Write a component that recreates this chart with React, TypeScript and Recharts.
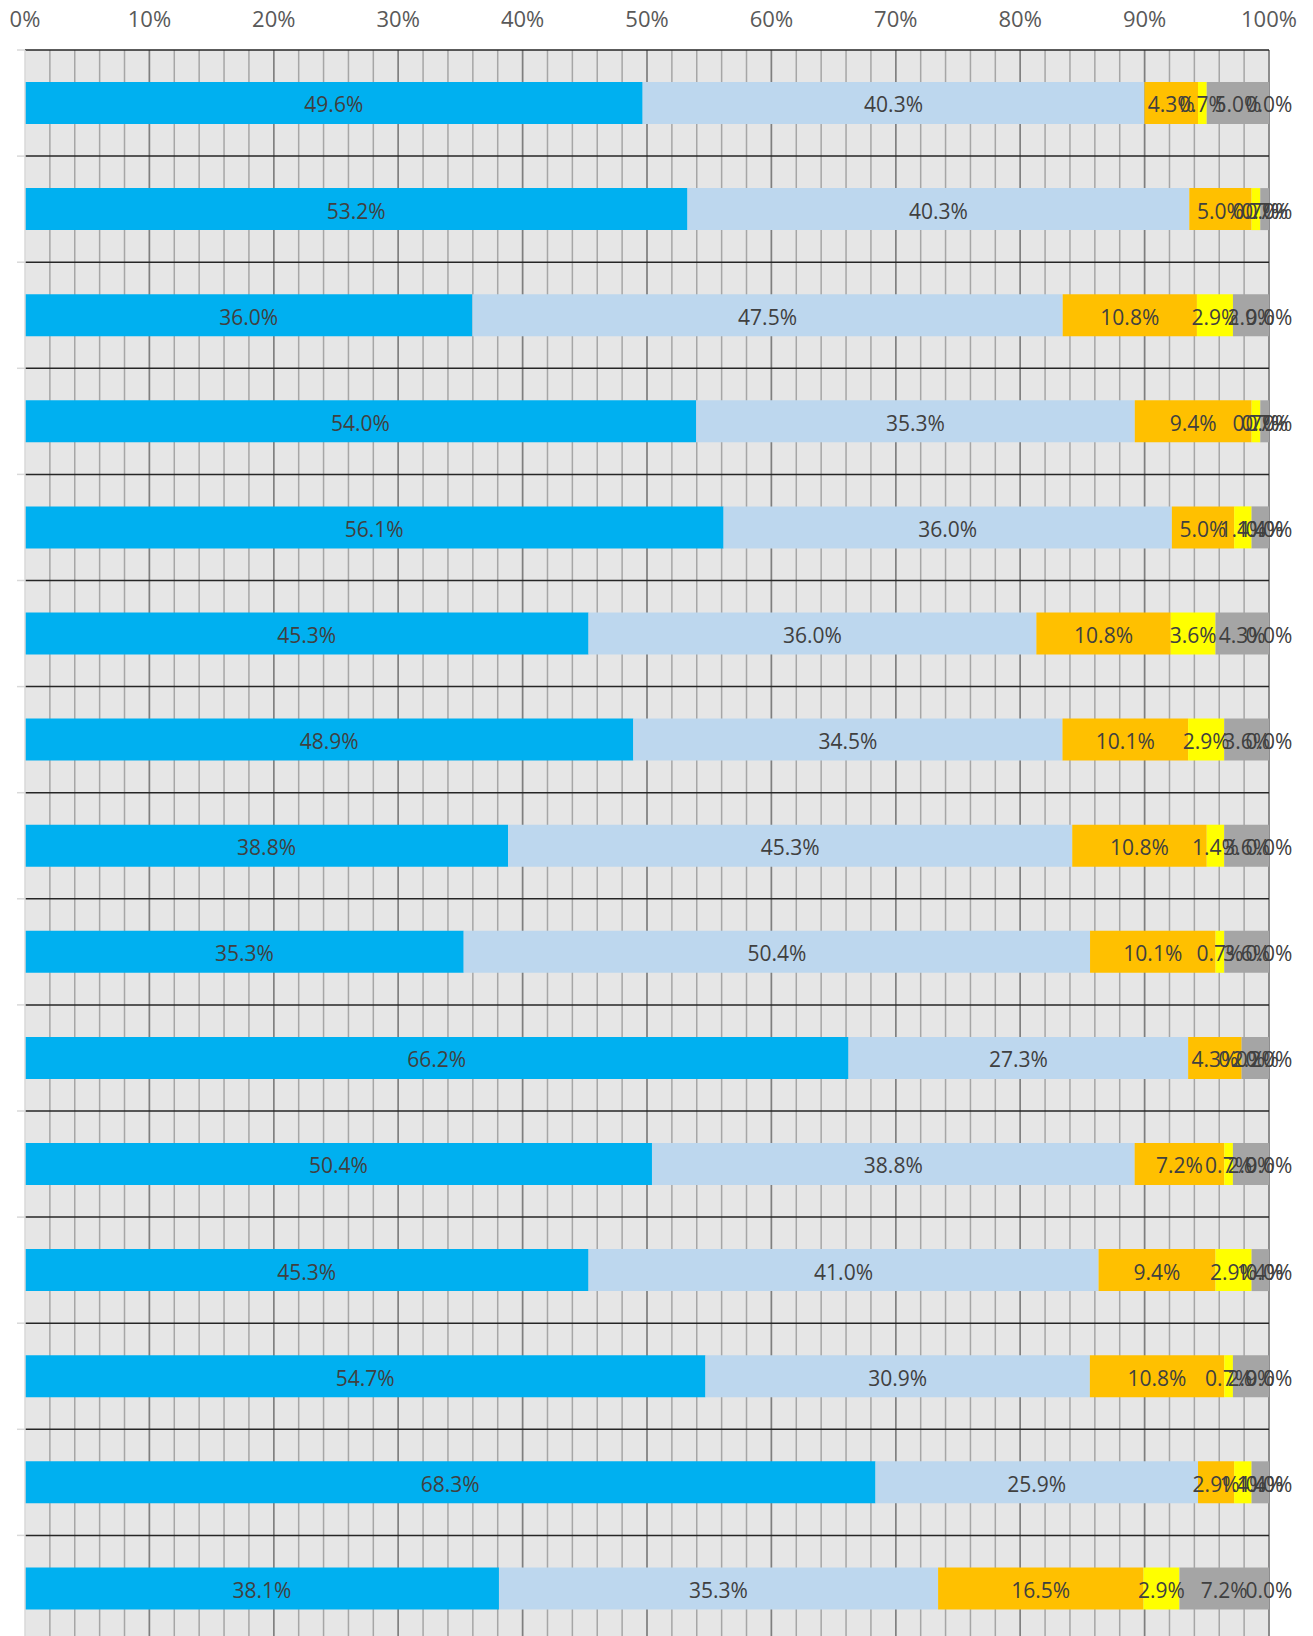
import React from "react";
import {
  BarChart,
  Bar,
  XAxis,
  YAxis,
  CartesianGrid,
  LabelList,
} from "recharts";

const categories = [
  "1", "2", "3", "4", "5", "6", "7", "8", "9", "10", "11", "12", "13", "14", "15",
];

const seriesA = [49.6, 53.2, 36.0, 54.0, 56.1, 45.3, 48.9, 38.8, 35.3, 66.2, 50.4, 45.3, 54.7, 68.3, 38.1];
const seriesB = [40.3, 40.3, 47.5, 35.3, 36.0, 36.0, 34.5, 45.3, 50.4, 27.3, 38.8, 41.0, 30.9, 25.9, 35.3];
const seriesC = [4.3, 5.0, 10.8, 9.4, 5.0, 10.8, 10.1, 10.8, 10.1, 4.3, 7.2, 9.4, 10.8, 2.9, 16.5];
const seriesD = [0.7, 0.7, 2.9, 0.7, 1.4, 3.6, 2.9, 1.4, 0.7, 0.0, 0.7, 2.9, 0.7, 1.4, 2.9];
const seriesE = [5.0, 0.7, 2.9, 0.7, 1.4, 4.3, 3.6, 3.6, 3.6, 2.2, 2.9, 1.4, 2.9, 1.4, 7.2];
const seriesF = [0.0, 0.0, 0.0, 0.0, 0.0, 0.0, 0.0, 0.0, 0.0, 0.0, 0.0, 0.0, 0.0, 0.0, 0.0];

// 100% stacked, so the axis runs 0..1
const xTicks = [0, 0.1, 0.2, 0.3, 0.4, 0.5, 0.6, 0.7, 0.8, 0.9, 1];

const series = [
  { key: "a", values: seriesA, color: "#00B0F0" },
  { key: "b", values: seriesB, color: "#BDD7EE" },
  { key: "c", values: seriesC, color: "#FFC000" },
  { key: "d", values: seriesD, color: "#FFFF00" },
  { key: "e", values: seriesE, color: "#A5A5A5" },
  { key: "f", values: seriesF, color: "#5B9BD5" },
];

const data = categories.map((name, i) => {
  const row: Record<string, string | number> = { name };
  series.forEach((s) => {
    row[s.key] = s.values[i];
  });
  return row;
});

const FONT = "'Open Sans', 'Noto Sans', sans-serif";
const PLOT_TOP = 50;
const BAND = 106.1;

const fmt = (v: any) => `${Number(v).toFixed(1)}%`;

// small outside tick marks sit on the category boundaries, like the source sheet
const BoundaryTick = (props: any) => {
  const { y, index } = props;
  const top = y - BAND / 2;
  return (
    <g>
      <line x1={17} x2={25} y1={top} y2={top} stroke="#d9d9d9" strokeWidth={1.5} />
      {index === categories.length - 1 && (
        <line x1={17} x2={25} y1={top + BAND} y2={top + BAND} stroke="#d9d9d9" strokeWidth={1.5} />
      )}
    </g>
  );
};

export default function App() {
  return (
    <div
      style={{
        position: "absolute",
        left: 0,
        top: 0,
        width: 1313,
        height: 1636,
        overflow: "hidden",
        background: "#fff",
      }}
    >
      <BarChart
        width={1313}
        height={PLOT_TOP + BAND * categories.length}
        data={data}
        layout="vertical"
        stackOffset="expand"
        margin={{ top: 0, right: 44, bottom: 0, left: 0 }}
        barSize={42}
      >
        <CartesianGrid
          fill="#e6e6e6"
          horizontal={false}
          stroke="#a6a6a6"
          strokeWidth={1.5}
          verticalCoordinatesGenerator={({ offset }: any) =>
            Array.from({ length: 50 }, (_, i) => offset.left + ((i + 1) * offset.width) / 50)
          }
        />
        <CartesianGrid
          horizontal={false}
          stroke="#7f7f7f"
          strokeWidth={1.5}
          verticalCoordinatesGenerator={({ offset }: any) =>
            Array.from({ length: 10 }, (_, i) => offset.left + ((i + 1) * offset.width) / 10)
          }
        />
        <CartesianGrid
          vertical={false}
          stroke="#262626"
          strokeWidth={1.5}
          horizontalCoordinatesGenerator={({ offset }: any) =>
            Array.from({ length: categories.length + 1 }, (_, i) =>
              offset ? offset.top + (i * offset.height) / categories.length : PLOT_TOP + i * BAND
            )
          }
        />
        <XAxis
          type="number"
          orientation="top"
          domain={[0, 1]}
          ticks={xTicks}
          height={PLOT_TOP}
          axisLine={false}
          tickLine={false}
          tickSize={0}
          tickMargin={23}
          tickFormatter={(v) => `${Math.round(v * 100)}%`}
          tick={{ fill: "#595959", fontSize: 22, fontFamily: FONT }}
          interval={0}
        />
        <YAxis
          type="category"
          dataKey="name"
          width={25}
          axisLine={{ stroke: "#d9d9d9", strokeWidth: 1.5 }}
          tickLine={false}
          tick={<BoundaryTick />}
          interval={0}
        />
        {series.map((s) => (
          <Bar
            key={s.key}
            dataKey={s.key}
            stackId="1"
            fill={s.color}
            minPointSize={0.01}
            isAnimationActive={false}
          >
            <LabelList
              dataKey={s.key}
              position="center"
              formatter={fmt}
              fill="#404040"
              fontSize={21}
              fontFamily={FONT}
              dy={2}
            />
          </Bar>
        ))}
      </BarChart>
    </div>
  );
}
